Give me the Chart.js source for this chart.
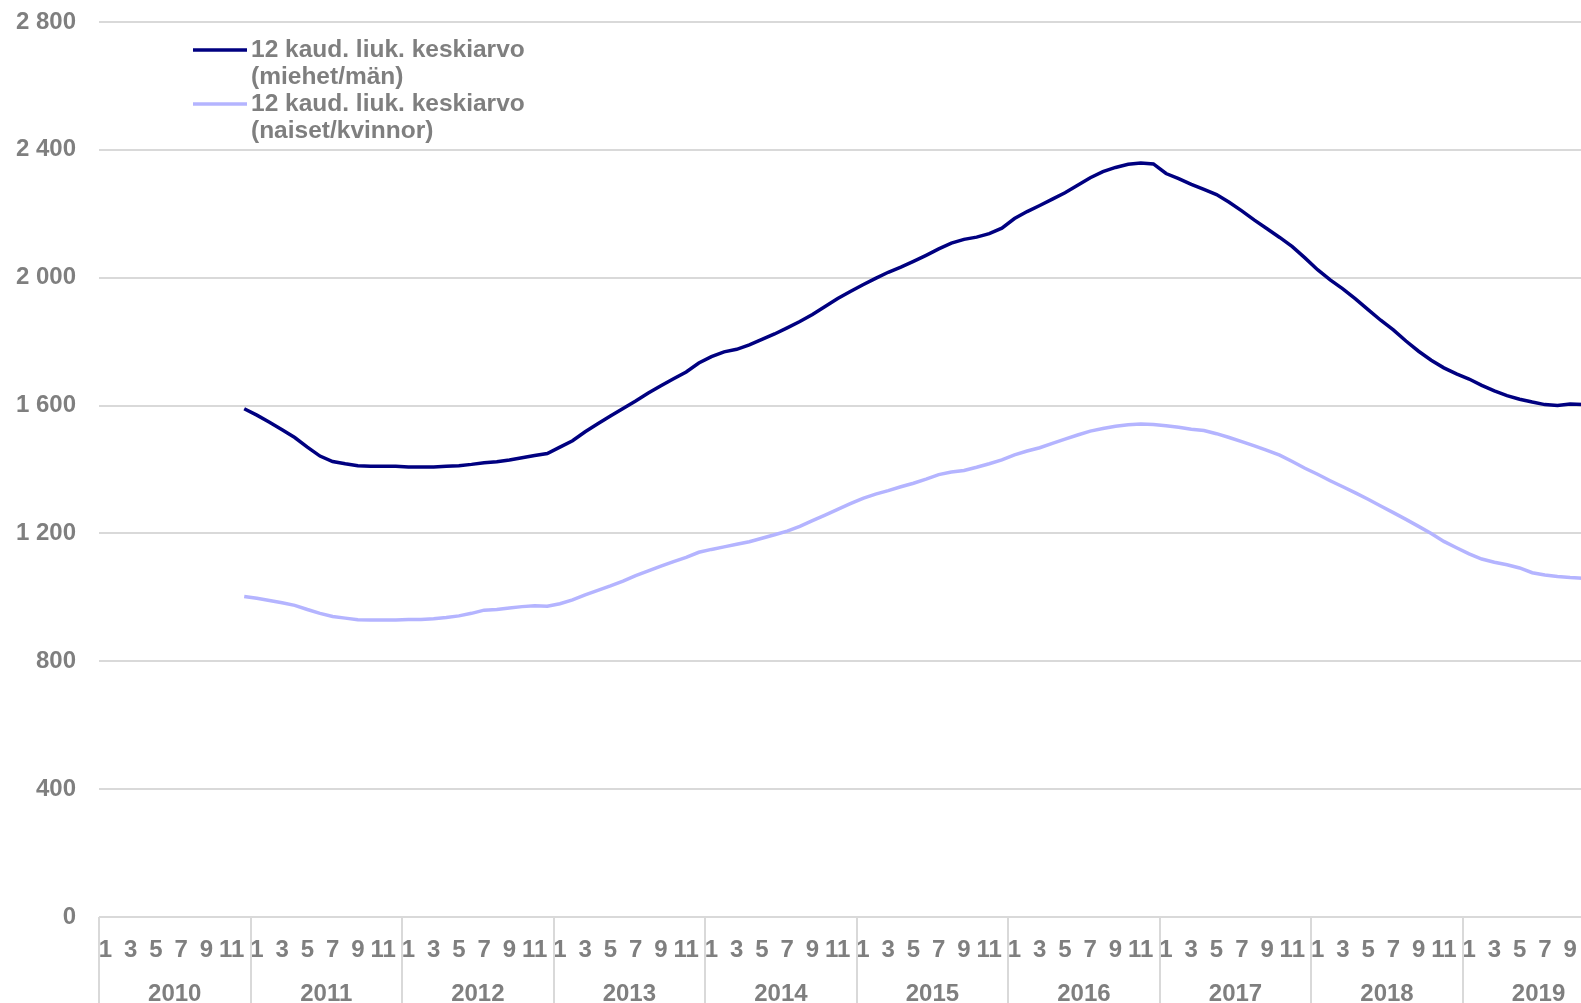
<!DOCTYPE html>
<html>
<head>
<meta charset="utf-8">
<script src="https://cdn.jsdelivr.net/npm/chart.js@4"></script>
<style>
    html, body { margin: 0; padding: 0; background: #fff; overflow: hidden; }
    #wrap { position: relative; width: 1627px; height: 1003px; }
</style>
</head>
<body>
<div id="wrap"><canvas id="lineChart"></canvas></div>
<script>
// ========================================
// 12 kuukauden liukuva keskiarvo, 2010-2019
// ========================================

const years = [2010, 2011, 2012, 2013, 2014, 2015, 2016, 2017, 2018, 2019];
const months = [1, 2, 3, 4, 5, 6, 7, 8, 9, 10, 11, 12];
const yTicks = [0, 400, 800, 1200, 1600, 2000, 2400, 2800];

const seriesNames = [
    ['12 kaud. liuk. keskiarvo', '(miehet/män)'],
    ['12 kaud. liuk. keskiarvo', '(naiset/kvinnor)']
];

// miehet/män, alkaa 12/2010
const men = [
    null, null, null, null, null, null, null, null, null, null, null, 1590,
    1570, 1548, 1524, 1500, 1470, 1442, 1425, 1418, 1412, 1410, 1410, 1410,
    1408, 1408, 1408, 1410, 1412, 1416, 1421, 1424, 1430, 1437, 1444, 1450,
    1470, 1490, 1518, 1543, 1567, 1591, 1614, 1639, 1662, 1684, 1705, 1733,
    1753, 1768, 1776, 1790, 1807, 1824, 1843, 1863, 1885, 1910, 1935, 1957,
    1978, 1998, 2017, 2033, 2051, 2070, 2090, 2108, 2120, 2127, 2138, 2155,
    2185, 2207, 2226, 2246, 2266, 2289, 2313, 2332, 2345, 2355, 2359, 2356,
    2326, 2310, 2292, 2276, 2260, 2236, 2209, 2180, 2153, 2126, 2097, 2062,
    2025, 1993, 1965, 1934, 1900, 1867, 1837, 1802, 1770, 1742, 1718, 1699,
    1683, 1663, 1646, 1631, 1620, 1611, 1603, 1600, 1605, 1603, null, null
];

// naiset/kvinnor
const women = [
    null, null, null, null, null, null, null, null, null, null, null, 1003,
    997, 990, 983, 975, 962, 950, 940, 935, 930, 929, 929, 929,
    931, 931, 933, 937, 942, 950, 960, 962, 967, 971, 974, 972,
    980, 992, 1008, 1022, 1036, 1051, 1068, 1083, 1098, 1112, 1125, 1141,
    1150, 1158, 1166, 1174, 1185, 1196, 1207, 1222, 1240, 1257, 1275, 1293,
    1310, 1323, 1334, 1346, 1357, 1370, 1384, 1392, 1397, 1407, 1418, 1430,
    1446, 1458, 1468, 1482, 1495, 1508, 1520, 1528, 1535, 1540, 1542, 1541,
    1537, 1532, 1526, 1522, 1512, 1500, 1487, 1474, 1460, 1445, 1425, 1404,
    1385, 1365, 1346, 1327, 1307, 1286, 1265, 1244, 1222, 1200, 1175, 1155,
    1136, 1120, 1110, 1102, 1092, 1077, 1070, 1065, 1062, 1060, null, null
];

const labels = [];
years.forEach(y => months.forEach(m => labels.push(String(m))));

const FONT = '"Liberation Sans", Arial, sans-serif';
const GREY = '#7f7f7f';
const GRID = '#d9d9d9';
const MEN_COLOR = '#000080';
const WOMEN_COLOR = '#b4b4ff';

// vuosirivi ja erottimet x-akselin alle
const yearAxisPlugin = {
    id: 'yearAxis',
    afterDraw(chart) {
        const ctx = chart.ctx;
        const x = chart.scales.x;
        const area = chart.chartArea;
        const step = x.getPixelForValue(1) - x.getPixelForValue(0);
        ctx.save();
        ctx.strokeStyle = GRID;
        ctx.lineWidth = 2;
        for (let k = 0; k <= years.length; k++) {
            const px = Math.round(x.getPixelForValue(k * 12) - step / 2);
            ctx.beginPath();
            ctx.moveTo(px, area.bottom);
            ctx.lineTo(px, chart.height);
            ctx.stroke();
        }
        ctx.fillStyle = GREY;
        ctx.font = 'bold 24px ' + FONT;
        ctx.textAlign = 'center';
        ctx.textBaseline = 'middle';
        years.forEach((y, k) => {
            const mid = (x.getPixelForValue(k * 12) + x.getPixelForValue(k * 12 + 11)) / 2;
            ctx.fillText(String(y), mid, area.bottom + 77);
        });
        ctx.restore();
    }
};

// selite kaavion sisään vasempaan yläkulmaan
const legendPlugin = {
    id: 'insideLegend',
    afterDraw(chart) {
        const ctx = chart.ctx;
        const colors = [MEN_COLOR, WOMEN_COLOR];
        ctx.save();
        ctx.font = 'bold 24.5px ' + FONT;
        ctx.fillStyle = GREY;
        ctx.textAlign = 'left';
        ctx.textBaseline = 'middle';
        seriesNames.forEach((lines, i) => {
            const top = 50 + i * 54;
            ctx.strokeStyle = colors[i];
            ctx.lineWidth = 3.5;
            ctx.beginPath();
            ctx.moveTo(193, top);
            ctx.lineTo(247, top);
            ctx.stroke();
            lines.forEach((t, j) => ctx.fillText(t, 251, top + j * 27));
        });
        ctx.restore();
    }
};

const ctx = document.getElementById('lineChart').getContext('2d');
new Chart(ctx, {
    type: 'line',
    data: {
        labels: labels,
        datasets: [
            {
                label: seriesNames[0].join(' '),
                data: men,
                borderColor: MEN_COLOR,
                borderWidth: 3.5,
                pointRadius: 0,
                tension: 0,
                fill: false
            },
            {
                label: seriesNames[1].join(' '),
                data: women,
                borderColor: WOMEN_COLOR,
                borderWidth: 3.5,
                pointRadius: 0,
                tension: 0,
                fill: false
            }
        ]
    },
    options: {
        responsive: true,
        maintainAspectRatio: false,
        animation: false,
        layout: {
            padding: { top: 22, right: 0, left: 0, bottom: 0 }
        },
        scales: {
            x: {
                offset: true,
                grid: { display: false, drawTicks: false },
                border: { display: false },
                ticks: {
                    autoSkip: false,
                    maxRotation: 0,
                    minRotation: 0,
                    padding: 19,
                    color: GREY,
                    font: { family: FONT, size: 24, weight: 'bold' },
                    callback: function (value, index) {
                        const m = months[index % 12];
                        return m % 2 === 1 ? String(m) : '';
                    }
                },
                afterFit: scale => { scale.height = 86; }
            },
            y: {
                min: 0,
                max: 2800,
                afterBuildTicks: scale => {
                    scale.ticks = yTicks.map(v => ({ value: v }));
                },
                grid: {
                    color: GRID,
                    lineWidth: 2,
                    drawTicks: false
                },
                border: { display: false },
                ticks: {
                    padding: 23,
                    color: GREY,
                    font: { family: FONT, size: 24, weight: 'bold' },
                    callback: v => v.toLocaleString('fi-FI').replace(/\s/g, ' ')
                },
                afterFit: scale => {
                    scale.width = 99;
                    scale.paddingTop = 0;
                    scale.paddingBottom = 0;
                }
            }
        },
        plugins: {
            legend: { display: false },
            tooltip: { enabled: false }
        }
    },
    plugins: [yearAxisPlugin, legendPlugin]
});
</script>
</body>
</html>
